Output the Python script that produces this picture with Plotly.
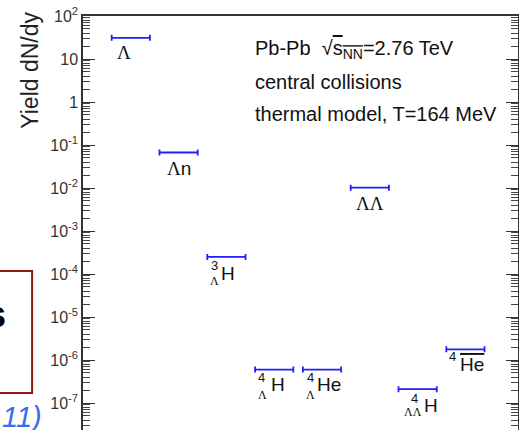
import numpy as np
import plotly.graph_objects as go

# ---------------- data ----------------
particles = ["Λ", "Λn", "3ΛH", "4ΛH", "4ΛHe", "ΛΛ", "4ΛΛH", "anti-4He"]
yields = [31.0, 0.067, 2.5e-4, 6.0e-7, 6.0e-7, 1.02e-2, 2.1e-7, 1.77e-6]
label_main = ["Λ", "Λn", "H", "H", "He", "ΛΛ", "H", "He"]
label_mass = ["", "", "3", "4", "4", "", "4", "4"]
label_hyper = ["", "", "Λ", "Λ", "Λ", "", "ΛΛ", ""]
label_anti = [False, False, False, False, False, False, False, True]

ytick_vals = [1e-7, 1e-6, 1e-5, 1e-4, 1e-3, 1e-2, 1e-1, 1, 10, 100]
ytick_text = ["10<sup>-7</sup>", "10<sup>-6</sup>", "10<sup>-5</sup>", "10<sup>-4</sup>",
              "10<sup>-3</sup>", "10<sup>-2</sup>", "10<sup>-1</sup>", "1", "10", "10<sup>2</sup>"]
y_title = "Yield dN/dy"
info_lines = [
    "Pb-Pb  √<span style='text-decoration:overline'>s<sub>NN</sub></span>=2.76 TeV",
    "central collisions",
    "thermal model, T=164 MeV",
]

# ---------------- styles / offsets (pixels) ----------------
BLUE = "#1f1fff"
SANS = "Liberation Sans, Arial, sans-serif"
SERIF = "Liberation Serif, Times New Roman, serif"
main_off = [(-7, 15), (0, 16), (2, 17), (3.5, 15), (7, 15), (0, 16), (13, 16), (6.5, 15.5)]
sup_off = [None, None, (-12, 8.5), (-12.5, 8), (-12, 8), None, (-3, 9), (-12.5, 7.5)]
sub_off = [None, None, (-12, 24.5), (-11.5, 25), (-12, 25), None, (-4.5, 23), None]

xpos = np.arange(1, len(particles) + 1)

fig = go.Figure()
fig.add_trace(go.Scatter(
    x=xpos, y=yields, mode="markers",
    marker=dict(size=1, color=BLUE, opacity=0),
    error_x=dict(type="constant", value=0.4, color=BLUE, thickness=1.8, width=3),
    hoverinfo="skip", showlegend=False,
))

def greek(s):
    return s.replace("Λ", "<span style='font-family:Liberation Serif'>Λ</span>")

ann = []
for i in range(len(particles)):
    x = float(xpos[i]); y = float(np.log10(yields[i]))
    txt = label_main[i]
    if label_anti[i]:
        txt = "<span style='text-decoration:overline'>" + txt + "</span>"
    txt = greek(txt)
    dx, dy = main_off[i]
    ann.append(dict(x=x, y=y, xref="x", yref="y", text=txt, showarrow=False,
                    xanchor="center", yanchor="middle", xshift=dx, yshift=-dy,
                    font=dict(family=SANS, size=19, color="#111")))
    if label_mass[i]:
        dx, dy = sup_off[i]
        ann.append(dict(x=x, y=y, xref="x", yref="y", text=label_mass[i], showarrow=False,
                        xanchor="center", yanchor="middle", xshift=dx, yshift=-dy,
                        font=dict(family=SANS, size=13, color="#111")))
    if label_hyper[i]:
        dx, dy = sub_off[i]
        ann.append(dict(x=x, y=y, xref="x", yref="y", text=label_hyper[i], showarrow=False,
                        xanchor="center", yanchor="middle", xshift=dx, yshift=-dy,
                        font=dict(family=SERIF, size=12, color="#111")))

# info text block
for k, (line, yp) in enumerate(zip(info_lines, [0.9179, 0.8406, 0.7633])):
    ann.append(dict(x=0.3908, y=yp, xref="paper", yref="paper", text=line, showarrow=False,
                    xanchor="left", yanchor="middle",
                    font=dict(family=SANS, size=20, color="#111")))

# y axis title
ann.append(dict(x=-0.122, y=0.87, xref="paper", yref="paper", text=y_title, showarrow=False,
                textangle=-90, xanchor="center", yanchor="middle",
                font=dict(family=SANS, size=23, color="#222")))
# slide remnants on the left
ann.append(dict(x=-0.1724, y=0.278, xref="paper", yref="paper", text="<b>s</b>", showarrow=False,
                xanchor="right", yanchor="middle",
                font=dict(family=SANS, size=36, color="#000")))
ann.append(dict(x=-0.0897, y=0.031, xref="paper", yref="paper", text="<i>11)</i>", showarrow=False,
                xanchor="right", yanchor="middle",
                font=dict(family=SANS, size=29, color="#3a6cf0")))

shapes = [dict(type="rect", xref="paper", yref="paper", x0=-0.25, x1=-0.117, y0=0.0894, y1=0.384,
               line=dict(color="#8b1a0f", width=2), fillcolor="rgba(0,0,0,0)")]

fig.update_layout(
    width=519, height=430,
    margin=dict(l=83, r=1, t=16, b=0, pad=0),
    paper_bgcolor="white", plot_bgcolor="white",
    annotations=ann, shapes=shapes,
    xaxis=dict(range=[0, 9.1], side="top", showline=True, linecolor="#333", linewidth=1.5,
               showticklabels=False, ticks="", showgrid=False, zeroline=False),
    yaxis=dict(type="log", range=[-7.628, 2], showline=True, linecolor="#333", linewidth=1.5,
               mirror="allticks", ticks="inside", ticklen=12, tickwidth=1, tickcolor="#333",
               tickmode="array", tickvals=ytick_vals, ticktext=ytick_text,
               tickfont=dict(family=SANS, size=16, color="#333"),
               minor=dict(ticks="inside", ticklen=7, tickcolor="#444", dtick="D1", showgrid=False),
               showgrid=False, zeroline=False),
)

fig.write_html("out.html")
